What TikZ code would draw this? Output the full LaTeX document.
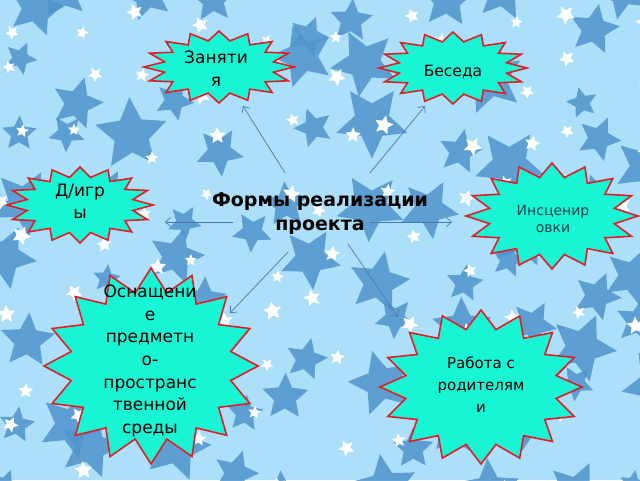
\documentclass[tikz,border=0pt]{standalone}
\usepackage{fontspec}
\setmainfont{DejaVu Sans}
\usetikzlibrary{arrows.meta}
\definecolor{bgblue}{RGB}{172,223,249}
\definecolor{starblue}{RGB}{80,148,204}
\definecolor{burstfill}{RGB}{24,245,212}
\definecolor{burstred}{RGB}{225,30,40}
\definecolor{arrowblue}{RGB}{80,118,180}
\definecolor{instext}{RGB}{25,72,76}
\tikzset{
 burst/.style={fill=burstfill, draw=burstred, line width=1.6pt, line join=miter},
 lbl/.style={align=center, font=\fontsize{15}{22}\selectfont, text=black, inner sep=0pt},
 conn/.style={draw=arrowblue, line width=0.7pt, -{Straight Barb[length=5pt,width=9pt]}},
 bigstar/.style={fill=starblue, opacity=0.85},
 smallstar/.style={fill=white},
}
\newcommand\burstpath[5]{%
 \path[burst] plot[samples at={0,...,31}, variable=\k] ({#1+#3*ifthenelse(mod(\k,2)==0,1,#5)*cos(90+11.25*\k)}, {#2+#4*ifthenelse(mod(\k,2)==0,1,#5)*sin(90+11.25*\k)}) -- cycle;}
\begin{document}
\begin{tikzpicture}[x=1pt,y=-1pt]
\fill[bgblue] (0,0) rectangle (640,480);
\useasboundingbox (0,0) rectangle (640,480);
\begin{scope}
\clip (0,0) rectangle (640,480);
\pgfmathsetseed{17}
\foreach \gx in {0,...,9}{
 \foreach \gy in {0,...,7}{
  \pgfmathsetmacro\sx{\gx*70-10+rnd*55}
  \pgfmathsetmacro\sy{\gy*65-10+rnd*50}
  \pgfmathsetmacro\sr{14+rnd*24}
  \pgfmathsetmacro\sa{rnd*72}
  \path[bigstar] plot[samples at={0,...,9}, variable=\k] ({\sx+\sr*ifthenelse(mod(\k,2)==0,1,0.48)*cos(\sa+36*\k)}, {\sy+\sr*ifthenelse(mod(\k,2)==0,1,0.48)*sin(\sa+36*\k)}) -- cycle;
 }
}
\foreach \gx in {0,...,10}{
 \foreach \gy in {0,...,8}{
  \pgfmathsetmacro\sx{\gx*62+rnd*45}
  \pgfmathsetmacro\sy{\gy*58+rnd*45}
  \pgfmathsetmacro\sr{6+rnd*4}
  \pgfmathsetmacro\sa{rnd*72}
  \path[smallstar] plot[samples at={0,...,9}, variable=\k] ({\sx+\sr*ifthenelse(mod(\k,2)==0,1,0.48)*cos(\sa+36*\k)}, {\sy+\sr*ifthenelse(mod(\k,2)==0,1,0.48)*sin(\sa+36*\k)}) -- cycle;
 }
}
\end{scope}
% bursts
\burstpath{219}{67}{75}{36}{0.74}
\burstpath{453}{68}{74}{36}{0.74}
\burstpath{80}{205}{73}{38}{0.74}
\burstpath{552}{216}{86}{53}{0.74}
\burstpath{151}{366}{107}{98}{0.76}
\burstpath{481}{387}{101}{77}{0.76}
% labels
\node[lbl, font=\fontsize{17}{23}\selectfont] (zan) at (216,69) {Заняти\\я};
\node[lbl, font=\fontsize{15.5}{22}\selectfont] (bes) at (453,72) {Беседа};
\node[lbl, font=\fontsize{17}{22}\selectfont] (dig) at (80,201) {Д/игр\\ы};
\node[lbl, font=\fontsize{14}{17}\selectfont, text=instext] (ins) at (553,219) {Инсценир\\овки};
\node[lbl, font=\fontsize{17}{22.7}\selectfont] (osn) at (150,361) {Оснащени\\е\\предметн\\о-\\пространс\\твенной\\среды};
\node[lbl] (rab) at (481,385) {Работа с\\родителям\\и};
% connectors
\coordinate (s1) at (285,173); \coordinate (e1) at (243,106);
\coordinate (s2) at (370,173); \coordinate (e2) at (425,106);
\coordinate (s3) at (233,222); \coordinate (e3) at (165,222);
\coordinate (s4) at (370,222); \coordinate (e4) at (452,222);
\coordinate (s5) at (288,252); \coordinate (e5) at (230,313);
\coordinate (s6) at (348,244); \coordinate (e6) at (398,317);
\draw[conn] (s1) -- (e1);
\draw[conn] (s2) -- (e2);
\draw[conn] (s3) -- (e3);
\draw[conn] (s4) -- (e4);
\draw[conn] (s5) -- (e5);
\draw[conn] (s6) -- (e6);
\node[align=center, font=\bfseries\fontsize{19}{24}\selectfont, inner sep=0pt] (title) at (320,214) {Формы реализации\\проекта};
\end{tikzpicture}
\end{document}
